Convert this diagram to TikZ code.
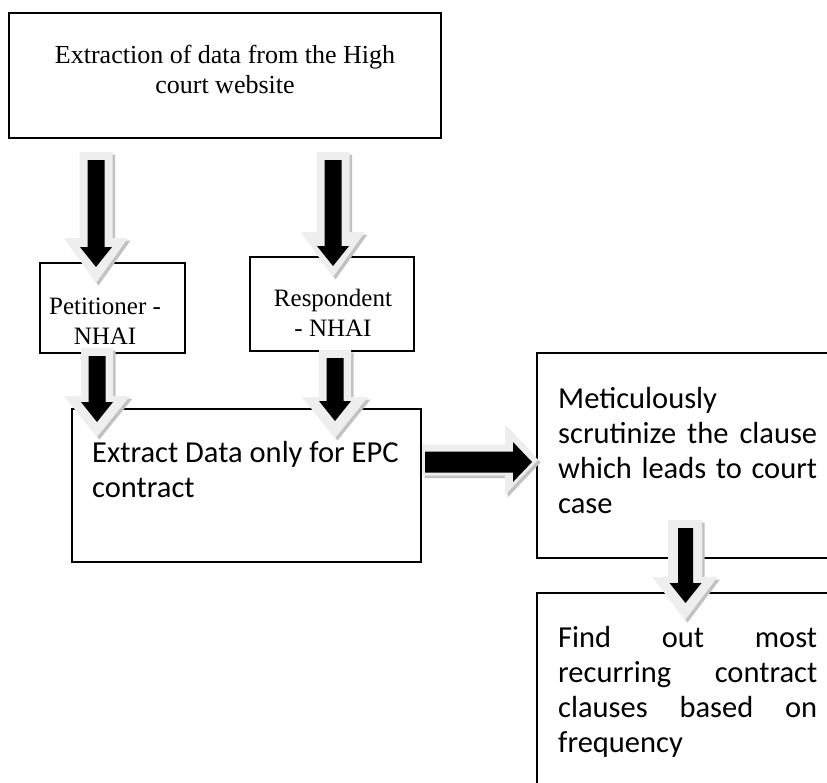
\documentclass[tikz,border=0pt]{standalone}
\usepackage{fontspec}
\setmainfont{Liberation Serif}
\newfontfamily\sansf{Carlito}
\usetikzlibrary{calc}
\definecolor{arrlight}{gray}{0.935}
\definecolor{arrdark}{gray}{0.76}
% #1 style, #2 start, #3 tip, #4 shaft half width, #5 head half width, #6 head length
\newcommand{\blockarrow}[6]{%
  \coordinate (babase) at ($(#3)!#6!(#2)$);
  \fill[#1] ($(#2)!#4!90:(#3)$) -- ($(babase)!#4!90:(#3)$) -- ($(babase)!#5!90:(#3)$) -- (#3)
    -- ($(babase)!#5!-90:(#3)$) -- ($(babase)!#4!-90:(#3)$) -- ($(#2)!#4!-90:(#3)$) -- cycle;}
\begin{document}
\begin{tikzpicture}[x=1pt,y=-1pt,
  box/.style={draw=black, line width=1.2pt, rectangle, inner sep=0pt, outer sep=0pt},
  seriftext/.style={font=\fontsize{26}{30}\selectfont, inner sep=0pt, anchor=base},
  smallserif/.style={font=\fontsize{25}{30}\selectfont, inner sep=0pt, anchor=base},
  sanstext/.style={font=\sansf\fontsize{30.5}{35}\selectfont, inner sep=0pt, anchor=base west},
  shadowarrow/.style={arrdark, transform canvas={shift={(2.5pt,-2.5pt)}}},
  lightarrow/.style={arrlight},
  darkarrow/.style={black}]
\useasboundingbox (0,0) rectangle (827,782);
\fill[white] (0,0) rectangle (827,782);
\clip (0,0) rectangle (827,782);

% boxes
\node[box, minimum width=432pt, minimum height=125pt] (b1) at (225,75.5) {};
\node[box, minimum width=145pt, minimum height=90pt] (b2) at (112.5,308) {};
\node[box, minimum width=164pt, minimum height=94pt] (b3) at (332,304) {};
\node[box, minimum width=349pt, minimum height=153pt] (b4) at (246.5,485.5) {};
\node[box, minimum width=308pt, minimum height=205pt] (b5) at (691,455.5) {};
\node[box, minimum width=308pt, minimum height=207pt] (b6) at (691,696.5) {};

% texts
\node[seriftext] (t1) at (225,63) {\parbox[t]{420pt}{\centering Extraction of data from the High\\court website}};
\node[smallserif] (t2) at (105,314) {\parbox[t]{140pt}{\centering Petitioner -\\NHAI}};
\node[smallserif] (t3) at (333,306) {\parbox[t]{160pt}{\centering Respondent\\- NHAI}};
\node[sanstext] (t4) at (92,462) {\parbox[t]{320pt}{Extract Data only for EPC\\contract}};
\node[sanstext] (t5) at (558,408) {\parbox[t]{259pt}{Meticulously\\scrutinize\hfill the\hfill clause\\which\hfill leads\hfill to\hfill court\\case}};
\node[sanstext] (t6) at (558,647) {\parbox[t]{259pt}{Find\hfill out\hfill most\\recurring\hfill contract\\clauses\hfill based\hfill on\\frequency}};

% connector end points
\coordinate (a1s) at (96,152);  \coordinate (a1t) at (96,283);
\coordinate (a1sb) at (96,160); \coordinate (a1tb) at (96,267);
\coordinate (a2s) at (333,152); \coordinate (a2t) at (333,277);
\coordinate (a2sb) at (333,160); \coordinate (a2tb) at (333,266);
\coordinate (a3s) at (97,348);  \coordinate (a3t) at (97,437);
\coordinate (a3sb) at (97,356); \coordinate (a3tb) at (97,422);
\coordinate (a4s) at (335,350); \coordinate (a4t) at (335,438);
\coordinate (a4sb) at (335,358); \coordinate (a4tb) at (335,421);
\coordinate (a5s) at (422,460); \coordinate (a5t) at (538,460);
\coordinate (a5sb) at (425,462); \coordinate (a5tb) at (532,462);
\coordinate (a6s) at (685,520); \coordinate (a6t) at (685,620);
\coordinate (a6sb) at (685.5,528); \coordinate (a6tb) at (685.5,603);

% b1 -> b2
\blockarrow{shadowarrow}{a1s}{a1t}{16.5pt}{32pt}{45pt}
\blockarrow{lightarrow}{a1s}{a1t}{16.5pt}{32pt}{45pt}
\blockarrow{darkarrow}{a1sb}{a1tb}{8.5pt}{16pt}{20pt}
% b1 -> b3
\blockarrow{shadowarrow}{a2s}{a2t}{16.5pt}{32pt}{45pt}
\blockarrow{lightarrow}{a2s}{a2t}{16.5pt}{32pt}{45pt}
\blockarrow{darkarrow}{a2sb}{a2tb}{8.5pt}{16pt}{20pt}
% b2 -> b4
\blockarrow{shadowarrow}{a3s}{a3t}{16pt}{33pt}{41pt}
\blockarrow{lightarrow}{a3s}{a3t}{16pt}{33pt}{41pt}
\blockarrow{darkarrow}{a3sb}{a3tb}{8.5pt}{16pt}{20pt}
% b3 -> b4
\blockarrow{shadowarrow}{a4s}{a4t}{16pt}{33pt}{41pt}
\blockarrow{lightarrow}{a4s}{a4t}{16pt}{33pt}{41pt}
\blockarrow{darkarrow}{a4sb}{a4tb}{8.5pt}{16pt}{20pt}
% b4 -> b5
\blockarrow{shadowarrow}{a5s}{a5t}{15.5pt}{35pt}{33pt}
\blockarrow{lightarrow}{a5s}{a5t}{15.5pt}{35pt}{33pt}
\blockarrow{darkarrow}{a5sb}{a5tb}{10.5pt}{20pt}{19pt}
% b5 -> b6
\blockarrow{shadowarrow}{a6s}{a6t}{17pt}{32.5pt}{43pt}
\blockarrow{lightarrow}{a6s}{a6t}{17pt}{32.5pt}{43pt}
\blockarrow{darkarrow}{a6sb}{a6tb}{7.5pt}{16pt}{20pt}
\end{tikzpicture}
\end{document}
